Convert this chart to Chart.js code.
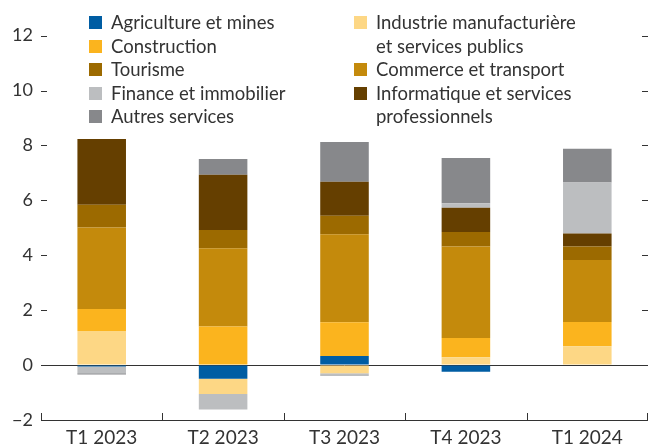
<!DOCTYPE html>
<html>
<head>
<meta charset="utf-8">
<script src="https://cdn.jsdelivr.net/npm/chart.js@4.4.1/dist/chart.umd.min.js"></script>
<style>
  html, body { margin: 0; padding: 0; background: #fff; }
  #wrap { position: relative; width: 648px; height: 446px; }
  #legend { position: absolute; left: 0; top: 0; font-family: Lato, sans-serif; font-size: 18.5px; color: #333; line-height: 23.5px; }
  .col { position: absolute; top: 11px; }
  .col1 { width: 250px; white-space: nowrap; }
  .col2 { width: 270px; }
  .item { display: flex; align-items: flex-start; }
  .sw { width: 13px; height: 13px; margin-top: 5px; margin-right: 9px; flex: none; }
  .col2 .txt { max-width: 218px; }
</style>
</head>
<body>
<div id="wrap">
  <canvas id="chart" width="648" height="446"></canvas>
  <div id="legend"></div>
</div>
<script>
const categories = ['T1 2023', 'T2 2023', 'T3 2023', 'T4 2023', 'T1 2024'];

const agriculture  = [-0.05, -0.50,  0.33, -0.24, 0.00];
const industrie    = [ 1.24, -0.55, -0.30,  0.29, 0.69];
const construction = [ 0.80,  1.41,  1.23,  0.70, 0.88];
const commerce     = [ 2.97,  2.85,  3.21,  3.33, 2.26];
const tourisme     = [ 0.83,  0.66,  0.67,  0.53, 0.49];
const informatique = [ 2.40,  2.01,  1.24,  0.88, 0.47];
const finance      = [-0.25, -0.57, -0.10,  0.17, 1.86];
const autres       = [-0.04,  0.58,  1.45,  1.64, 1.23];

const yTicks = [-2, 0, 2, 4, 6, 8, 10, 12];

const series = [
    { label: 'Agriculture et mines', data: agriculture, color: '#005da3' },
    { label: 'Industrie manufacturière et services publics', data: industrie, color: '#fdd785' },
    { label: 'Construction', data: construction, color: '#fbb41e' },
    { label: 'Commerce et transport', data: commerce, color: '#c48a0c' },
    { label: 'Tourisme', data: tourisme, color: '#9c6a00' },
    { label: 'Informatique et services professionnels', data: informatique, color: '#653f00' },
    { label: 'Finance et immobilier', data: finance, color: '#bcbec0' },
    { label: 'Autres services', data: autres, color: '#87888b' }
];

// legend columns (dataset indices)
const legendCols = [[0, 2, 4, 6, 7], [1, 3, 5]];
const legendLeft = [89, 354];

const legendEl = document.getElementById('legend');
legendCols.forEach((col, c) => {
    const div = document.createElement('div');
    div.className = 'col col' + (c + 1);
    div.style.left = legendLeft[c] + 'px';
    col.forEach(i => {
        const s = series[i];
        const item = document.createElement('div');
        item.className = 'item';
        item.innerHTML = `<span class="sw" style="background:${s.color}"></span><span class="txt">${s.label}</span>`;
        div.appendChild(item);
    });
    legendEl.appendChild(div);
});

const AXIS = '#333333';

// small inward tick marks on both sides and along the bottom
const tickMarks = {
    id: 'tickMarks',
    afterDraw(chart) {
        const { ctx, chartArea, scales } = chart;
        const y = scales.y;
        ctx.save();
        ctx.strokeStyle = AXIS;
        ctx.lineWidth = 1;
        ctx.beginPath();
        yTicks.forEach(v => {
            if (v === 0 || v === -2) return;
            const py = Math.round(y.getPixelForValue(v)) + 0.5;
            ctx.moveTo(chartArea.left, py);
            ctx.lineTo(chartArea.left + 6, py);
            ctx.moveTo(chartArea.right - 6, py);
            ctx.lineTo(chartArea.right, py);
        });
        const step = (chartArea.right - chartArea.left) / categories.length;
        for (let i = 0; i <= categories.length; i++) {
            let px = Math.round(chartArea.left + i * step) + 0.5;
            if (i === categories.length) px -= 1;
            ctx.moveTo(px, chartArea.bottom);
            ctx.lineTo(px, chartArea.bottom - 7);
        }
        ctx.stroke();
        ctx.restore();
    }
};

const ctx = document.getElementById('chart').getContext('2d');
new Chart(ctx, {
    type: 'bar',
    data: {
        labels: categories,
        datasets: series.map(s => ({
            label: s.label,
            data: s.data,
            backgroundColor: s.color,
            borderWidth: 0,
            barPercentage: 0.4,
            categoryPercentage: 1
        }))
    },
    options: {
        responsive: false,
        animation: false,
        layout: { padding: 0 },
        plugins: {
            legend: { display: false },
            tooltip: { enabled: false }
        },
        scales: {
            x: {
                stacked: true,
                grid: { display: false, drawTicks: false },
                border: { display: true, color: AXIS, width: 1 },
                ticks: { color: AXIS, padding: 6, font: { family: 'Lato', size: 19 } },
                afterFit: s => { s.height = 26; }
            },
            y: {
                stacked: true,
                min: -2,
                max: 13.3,
                afterBuildTicks: s => { s.ticks = yTicks.map(v => ({ value: v })); },
                grid: {
                    drawTicks: false,
                    color: c => (c.tick && c.tick.value === 0 ? AXIS : 'transparent'),
                    lineWidth: 1
                },
                border: { display: false },
                ticks: { color: AXIS, padding: 8, font: { family: 'Lato', size: 18 },
                    callback: v => (v < 0 ? '\u2212' + Math.abs(v) : v) },
                afterFit: s => { s.width = 41; s.paddingTop = 0; s.paddingBottom = 0; }
            }
        }
    },
    plugins: [tickMarks]
});
</script>
</body>
</html>
